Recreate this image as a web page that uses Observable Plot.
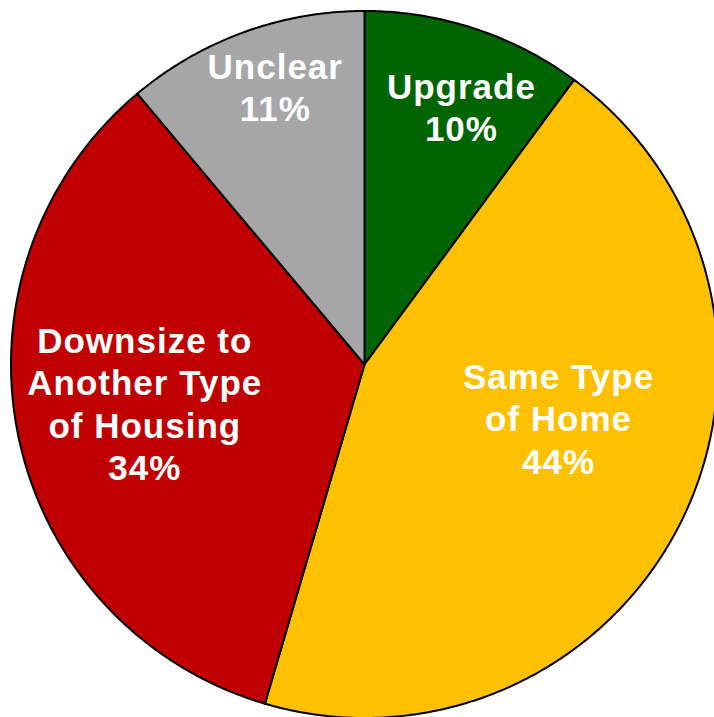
<!DOCTYPE html>
<html><head><meta charset="utf-8">
<script src="https://cdn.jsdelivr.net/npm/d3@7"></script>
<script src="https://cdn.jsdelivr.net/npm/@observablehq/plot@0.6"></script>
<style>
html,body{margin:0;padding:0;background:#fff;overflow:hidden;}
#chart svg{display:block;overflow:hidden;}
#chart svg text{letter-spacing:1px;}
</style></head><body><div id="chart"></div>
<script>
const categories = ["Upgrade", "Same Type of Home", "Downsize to Another Type of Housing", "Unclear"];
const labelLines = ["Upgrade", "Same Type\nof Home", "Downsize to\nAnother Type\nof Housing", "Unclear"];
const shares = [10, 44, 34, 11];
const colors = ["#006400", "#FFC000", "#C00000", "#A6A6A6"];
// label placement: radius fraction and angle shift (degrees) from slice middle
const labelRadius = [0.78, 0.569, 0.631, 0.826];
const labelShift = [2.4, -11.1, 1.9, 2.2];

const pie = d3.pie().sort(null).value(d => d)(shares);
const steps = 720;
const outline = [];
pie.forEach((s, i) => {
  const n = Math.max(2, Math.ceil((s.endAngle - s.startAngle) / (2 * Math.PI) * steps));
  outline.push({category: categories[i], x: 0, y: 0});
  for (let k = 0; k <= n; k++) {
    const a = s.startAngle + (s.endAngle - s.startAngle) * k / n;
    outline.push({category: categories[i], x: Math.sin(a), y: Math.cos(a)});
  }
  outline.push({category: categories[i], x: 0, y: 0});
});

const labels = pie.map((s, i) => {
  const a = (s.startAngle + s.endAngle) / 2 + labelShift[i] * Math.PI / 180;
  return {text: labelLines[i] + "\n" + shares[i] + "%", x: labelRadius[i] * Math.sin(a), y: labelRadius[i] * Math.cos(a)};
});

const chart = Plot.plot({
  width: 714,
  height: 717,
  margin: 0,
  x: {domain: [-1, 1], range: [10.5, 717.5], axis: null},
  y: {domain: [-1, 1], range: [717.5, 10.5], axis: null},
  color: {domain: categories, range: colors},
  marks: [
    Plot.line(outline, {x: "x", y: "y", z: "category", fill: "category", stroke: "black", strokeWidth: 2, strokeLinejoin: "round"}),
    Plot.text(labels, {x: "x", y: "y", text: "text", fill: "white", fontSize: 35, fontWeight: "bold",
      fontFamily: "Liberation Sans, Arial, sans-serif", lineHeight: 1.215, lineAnchor: "middle"})
  ]
});
document.getElementById("chart").appendChild(chart);
</script>
</body></html>
